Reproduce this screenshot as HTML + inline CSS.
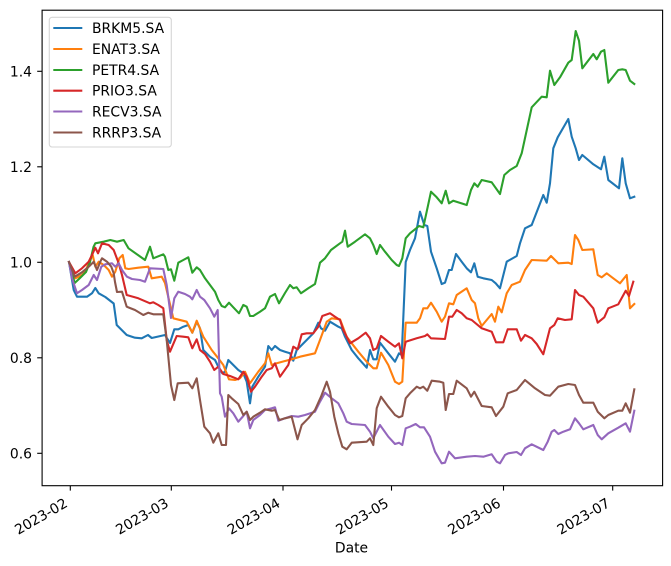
<!DOCTYPE html>
<html><head><meta charset="utf-8"><style>
html,body{margin:0;padding:0;background:#fff;}
svg{display:block;}
text{font-family:"DejaVu Sans","Liberation Sans",sans-serif;font-size:13.9px;fill:#000;}
</style></head><body>
<svg width="671" height="566" viewBox="0 0 671 566" xmlns="http://www.w3.org/2000/svg">
<rect x="0" y="0" width="671" height="566" fill="#fff"/>
<g fill="none" stroke-width="2.1" stroke-linejoin="round" stroke-linecap="square">
<polyline stroke="#1f77b4" points="69,262 73.7,290 77,296.7 87,296.7 92,293.3 95.3,288 98.7,293.3 105.3,297 113.7,303.5 116.7,325 126.7,335 135,337.7 141.7,338.3 148,335 151.7,338 165,335 170,343 174.3,329.3 178.3,329.3 183.3,326.7 188.3,325 192.3,332.7 196.7,321.7 200,328.3 203.3,350 210,356.7 215,360 218.3,366.7 222.3,373.3 225,371.7 228.3,360 233.3,365 238.3,370 243.3,373.3 246.7,381.7 250,403.3 252.3,386.7 258.3,376.7 265,366.7 268.3,346 271.7,350 275,346 280,350 285,351.7 290,353.3 293.3,360.7 296.7,350 300,346.7 306.7,340 313.3,333.3 318.3,322.7 321,328.3 325,330.7 330,321.7 338.3,326.7 341.7,328.3 345,336.7 351.7,350 358.3,358.3 366.7,367.7 370,350 373.3,359.3 376.7,359.3 380,342.7 388.3,353.3 395,361.7 399,353.3 401.7,355 405.7,262 410,250 415,238.3 420,211.7 424.3,225 427.3,226 431,251.7 436.7,268.3 441.7,284 445,282.7 449,270 451.7,270 456,254 461.7,261.7 466.7,268.3 471,272.3 474.3,263.3 477.7,276.7 483.3,278.3 491.7,280 495.7,283.3 500,288.3 506.7,261.7 516.7,256 520,243.3 525,228.3 531.7,225 543.3,195 546.7,202.7 550,183.3 553.3,148.3 557.7,137.3 568.3,119 571.7,136.7 575.7,148.3 579,160 582.3,155 593.3,164.3 601,169.3 604.3,156.7 608.3,180 619,188.3 622.3,158.3 625.7,183.3 630,198.3 634.3,196.7"/>
<polyline stroke="#ff7f0e" points="69,262 75.3,278.3 82,275 85.3,271.7 89.3,261.7 92.7,255 95.3,266.7 98.7,261.7 103.7,265 108.7,270 112,276.7 115.3,271.7 119.3,258.3 122.7,255 125.3,268.3 128.7,269 138.3,267.7 148.3,266.7 151.7,278.3 161.7,276.7 165,283 169,300 173.3,318.3 186.7,321.7 192.3,332.7 196.7,320.7 203.3,336.7 211.7,350 218.3,358.3 223.3,365 229,379.3 235,380 240,378.3 245,371.7 250,383.3 258.3,371.7 265,363.3 268.3,353.3 271.7,365 276.7,363.3 285,361 291.7,359.3 300,356.7 315,353.3 320,340 326.7,321.7 331.7,318.3 340,319.3 346.7,336.7 351.7,343.3 358.3,351.7 366.7,361.7 373.3,368.3 376.7,368.3 381,352.7 388.3,365 395,381.7 399,384 402.3,381.7 405.7,322.7 416.7,322.7 420,318.3 423.3,308.3 427.3,308.3 431,302.7 436.7,311.7 441.7,321.7 445,316.7 449,303.3 453.3,304.3 456.7,295 466.7,288.3 471.7,300 475,303.3 478.3,318.3 481.7,326 491.7,314 495,321.7 498.3,306.7 501.7,312.3 506.7,293.3 511.7,285 520,281.7 525,270 531.7,260 546.7,260.7 551,256 558.3,263.3 568.3,262.7 571.7,264 575,235 578.3,240 582.3,250 593.3,249.3 597.7,275 601.7,277.3 606.7,273.3 613.3,278.3 620,283.3 626.7,275 630,308.3 634.3,304"/>
<polyline stroke="#2ca02c" points="69,262 74.7,283 80,278 86,272 90,262 93.5,247 95.3,243.3 103.7,241.7 110.3,240 117,241.7 123.7,240 128.5,248.3 145,260 150,246.7 153.3,258.3 163.3,254.3 165,256.7 168.3,270 171,269.3 174.3,280.7 178.3,262.7 183.3,260 188.3,257.3 192.3,272.7 196.7,267.3 200,270 205,278.3 210,285 215,291.7 218.3,300 221.7,306 225,307.3 229,302.7 233.3,307.3 239,313.3 243.3,305 246.7,306.7 250,316 253.3,316 260,311.7 265,308.3 270,296.7 275,294 279,303.3 285,293 290,285 293.3,288.3 296.7,287.3 301,293.3 308.3,288.3 315,284 320,262.7 325,258.3 331,250 340,243.3 342.3,241.7 345,230.7 347.7,246.7 355,241.7 365,234.3 370,238.3 373.3,245 376.7,254 380,245 385,251.7 391.7,260 396.7,265 399,266 402.3,258.3 405.7,238.3 410,233.3 415,229.3 419,226 423.3,227.3 431,191.7 436.7,197.3 441.7,203.3 445.7,190.7 449,203.3 453.3,200.7 466.7,205 471,190 474.3,183.3 477.7,186.7 481.7,180 491.7,182.3 500,194 504.3,175 510,170 516.7,166 521.7,153.3 531.7,107.3 541.7,96.7 546.7,97.3 550,70.7 554.3,85 560,77.3 568.3,62.7 571.7,60 575.7,31 579,40.7 582.3,68.3 593.3,54 596.7,59.3 601,51.7 604.3,50 608.3,82.7 618.3,70 622.3,69.3 625.7,70 630,80.7 634.3,84"/>
<polyline stroke="#d62728" points="69,262 75.3,273.3 82,268.3 88.7,261.7 92,255 95.3,247.7 98,253.3 102,243.3 108.7,245 113.7,250 118.7,263.3 122,275 126.7,295 138.3,298.3 150,303.3 153.3,302.3 158.3,305 163.3,308.3 166.7,340 170,351.7 176.7,336 183.3,336.7 188.3,337.3 192.3,348.3 196.7,339.3 200,350 205,354 210,361.7 214.3,370 218.3,366.7 223.3,374 230,376 238.3,379.3 243.3,371.7 246.7,376.7 251,391.7 255,386.7 261.7,376.7 266.7,370 271.7,368.3 275,363.3 280,376.7 288.3,365 293.3,346.7 297.7,349.3 301.7,334.3 306.7,333.3 313.3,333.3 318.3,326.7 322.3,316 330,313.3 335,316.7 340,320 343.3,330 350,343.3 358.3,338.3 365.7,332.7 370,338.3 373.3,350 376.7,348.3 381,336 388.3,341.7 395,346.7 399,343.3 402.3,358.3 405.7,341.7 416.7,338.3 425,336 427.3,334.3 431,338.3 445,339 449,316.7 452.3,316.7 456.7,310 461.7,313.3 466.7,318.3 471.7,320 481.7,328.3 491.7,331.7 496,342.3 503.3,342.3 507.7,329.3 516.7,329.3 521,340.7 525,335 531.7,338.3 536.7,344 543.3,354.3 550,328.3 554.3,325 557.7,318.3 565,320 571.7,319.3 575,290 579,295 583.3,296.7 593.3,308.3 597.7,322.7 604.3,317.3 608.3,308.3 618.3,304.3 625.7,290.7 629,296 633.3,281.7"/>
<polyline stroke="#9467bd" points="69,262 72,278.3 77,293.3 82,290 88.7,285 93.7,275 97,280 101.3,266.7 105.3,264.3 112,263.3 115.3,266.7 118.7,263.3 122,270 127,276.7 132,279 140,280 145,281.7 150,268.3 163.3,269 166.7,285 171,318 174.3,298.3 178.3,291.7 185,294 190,296.7 192.3,299.3 196.7,290 200,296.7 204.3,300 210,308.3 214.3,316.7 217.7,310 220,393.3 221.7,396.7 225,416.7 229,408.3 233.3,413.3 238.3,421.7 243.3,416 246.7,411.7 250,428.3 253.3,420 260,415 265,410 271.7,408.3 275,407.3 278.3,420.7 285,418.3 291.7,416 298.3,416.7 305,415 315,411.7 320,401.7 325,392.7 331.7,398.3 338.3,403.3 343.3,413.3 346.7,421.7 351.7,424 365,425 370,431.7 373.3,438.3 380,425 388.3,436.7 395,444 399,442.7 402.3,445 405.7,428.3 410,426.7 415.7,424 420,427.3 424,427.3 430,436.7 435,451.7 441.7,463.3 445,462.7 449,451.7 455,458.3 466.7,456.7 475,456 483.3,456.7 491.7,454.3 496.7,461.7 500,463.3 505,455 508.3,453.3 516.7,452 521,455 525,448.3 531.7,444.3 543.3,450 547.7,441.7 551.7,431.7 554.3,430 558.3,434 563.3,431.7 570,429.3 575,418.3 579,423.3 583.3,429.3 593.3,425 597.7,435 601.7,439.3 608.3,433.3 618.3,427.7 625.7,423.3 630,431.7 634.3,410.7"/>
<polyline stroke="#8c564b" points="69,262 74.7,276.7 82,272.3 88.7,266.7 93.7,261.7 97,270 100.3,261.7 102,258.3 107,261.7 111.3,266.7 113.7,273.3 115,282 117,292 122,291.7 126.7,306.7 135,310 143.3,315 148.3,312.7 153.3,314.3 163.3,314.3 166.7,340 168.3,356.7 171,385 174.3,400 177.7,383.3 188.3,382.7 192.3,388.3 196.7,378.3 200,400 204.3,426.7 210,433.3 213.3,442.7 218.3,433.3 221.7,445 226,445 228.3,395 231.7,398.3 238.3,404 243.3,415 246.7,411.7 250,420 253.3,416.7 260,412.7 265,409.3 271.7,410.7 275,410 279.3,420 285,418.3 291.7,416.7 297.5,439.3 301.7,425 308.3,418.3 315,410 321,396.7 326.7,381.7 330,391.7 334.3,416.7 338.3,433.3 342.3,446.7 346.7,449.3 351.7,442.7 366.7,441.7 370,438.3 373.3,445 376.7,408.3 381,396.7 388.3,406.7 395,415 399,417.3 402.3,416 405.7,398.3 410,393.3 416.7,386.7 420,388.3 423.3,386.7 427.3,390.7 431.7,380.7 440,381.7 443.3,382.7 445.7,410 449,394 453.3,394 456.7,380.7 466.7,388.3 471,396.7 474.3,391.7 481.7,406 491.7,407.3 496,416 503.3,406.7 507.7,393.3 516.7,390 525,380 535,388.3 545,395 550,395.7 558.3,386.7 568.3,384 575,385 579,395 583.3,402.7 593.3,402.7 597.7,411.7 604.3,418.3 608.3,415 618.3,410.7 622.3,410.7 625.7,403.3 630,412.7 634.3,389.3"/>
</g>
<!-- axes frame -->
<rect x="42.1" y="10.2" width="620.5" height="475.5" fill="none" stroke="#000" stroke-width="1.1"/>
<!-- y ticks -->
<g stroke="#000" stroke-width="1.1">
<line x1="37.2" y1="453.3" x2="42.1" y2="453.3"/>
<line x1="37.2" y1="357.8" x2="42.1" y2="357.8"/>
<line x1="37.2" y1="262.3" x2="42.1" y2="262.3"/>
<line x1="37.2" y1="166.8" x2="42.1" y2="166.8"/>
<line x1="37.2" y1="71.3" x2="42.1" y2="71.3"/>
<line x1="70.3" y1="485.7" x2="70.3" y2="490.6"/>
<line x1="171.3" y1="485.7" x2="171.3" y2="490.6"/>
<line x1="283" y1="485.7" x2="283" y2="490.6"/>
<line x1="391.5" y1="485.7" x2="391.5" y2="490.6"/>
<line x1="503.5" y1="485.7" x2="503.5" y2="490.6"/>
<line x1="612.7" y1="485.7" x2="612.7" y2="490.6"/>
</g>
<g text-anchor="end">
<text x="32" y="458.3">0.6</text>
<text x="32" y="362.8">0.8</text>
<text x="32" y="267.3">1.0</text>
<text x="32" y="171.8">1.2</text>
<text x="32" y="76.3">1.4</text>
<text x="68.5" y="506" transform="rotate(-30 68.5 506)">2023-02</text>
<text x="169.5" y="506" transform="rotate(-30 169.5 506)">2023-03</text>
<text x="281.2" y="506" transform="rotate(-30 281.2 506)">2023-04</text>
<text x="389.7" y="506" transform="rotate(-30 389.7 506)">2023-05</text>
<text x="501.7" y="506" transform="rotate(-30 501.7 506)">2023-06</text>
<text x="610.9" y="506" transform="rotate(-30 610.9 506)">2023-07</text>
</g>
<text x="351.5" y="552.7" text-anchor="middle">Date</text>
<!-- legend -->
<rect x="49.3" y="17.3" width="122" height="129.7" rx="2.8" ry="2.8" fill="#fff" fill-opacity="0.8" stroke="#d6d6d6" stroke-width="1.1"/>
<g stroke-width="2.1">
<line x1="53.3" y1="28" x2="82.3" y2="28" stroke="#1f77b4"/>
<line x1="53.3" y1="49" x2="82.3" y2="49" stroke="#ff7f0e"/>
<line x1="53.3" y1="70" x2="82.3" y2="70" stroke="#2ca02c"/>
<line x1="53.3" y1="90.7" x2="82.3" y2="90.7" stroke="#d62728"/>
<line x1="53.3" y1="111.5" x2="82.3" y2="111.5" stroke="#9467bd"/>
<line x1="53.3" y1="132.5" x2="82.3" y2="132.5" stroke="#8c564b"/>
</g>
<text x="92" y="33">BRKM5.SA</text>
<text x="92" y="54">ENAT3.SA</text>
<text x="92" y="75">PETR4.SA</text>
<text x="92" y="95.7">PRIO3.SA</text>
<text x="92" y="116.5">RECV3.SA</text>
<text x="92" y="137.5">RRRP3.SA</text>
</svg>
</body></html>
